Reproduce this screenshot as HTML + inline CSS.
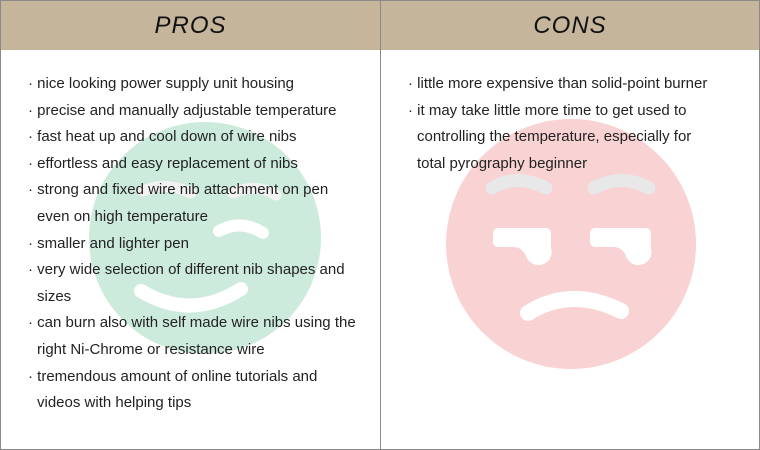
<!DOCTYPE html>
<html><head><style>
body{margin:0;background:#fff;}
#w{position:relative;width:758px;height:448px;border:1px solid #8a8a8a;overflow:hidden;font-family:"Liberation Sans",sans-serif;}
.hd{position:absolute;top:0;height:49px;background:#c4b59b;font-style:italic;font-size:24px;color:#111;text-align:center;line-height:50px;letter-spacing:1px;}
.div{position:absolute;left:379px;top:0;width:1px;height:448px;background:#8a8a8a;}
ul{position:absolute;margin:0;padding:0;list-style:none;font-size:15px;color:#222;line-height:26.6px;}
li{padding-left:9px;text-indent:-9px;}
li:before{content:"· ";}
svg{position:absolute;left:0;top:0;}
</style></head><body>
<div id="w">
<svg width="758" height="448">
<circle cx="204" cy="237" r="116" fill="#cdebdc"/>
<path d="M142 190 Q165 180 190 192" stroke="#f2f2f2" stroke-width="11" fill="none" stroke-linecap="round"/>
<path d="M232 192 Q255 182 275 194" stroke="#f2f2f2" stroke-width="11" fill="none" stroke-linecap="round"/>
<path d="M218 230 Q240 218 262 232" stroke="#fff" stroke-width="12" fill="none" stroke-linecap="round"/>
<path d="M140 290 Q190 320 240 288" stroke="#fff" stroke-width="14" fill="none" stroke-linecap="round"/>
<circle cx="570" cy="243" r="125" fill="#f9d2d3"/>
<path d="M491 187 Q515 172 545 187" stroke="#e8e8e8" stroke-width="13" fill="none" stroke-linecap="round"/>
<path d="M593 187 Q620 172 648 187" stroke="#e8e8e8" stroke-width="13" fill="none" stroke-linecap="round"/>
<path d="M497 232 H545 V248 A8 8 0 0 1 530 254 Q525 241 512 241 H497 Z" fill="#fff" stroke="#fff" stroke-width="10" stroke-linejoin="round"/>
<path d="M594 232 H645 V248 A8 8 0 0 1 630 254 Q625 241 612 241 H594 Z" fill="#fff" stroke="#fff" stroke-width="10" stroke-linejoin="round"/>
<path d="M527 312 Q570 285 620 310" stroke="#fff" stroke-width="16" fill="none" stroke-linecap="round"/>
</svg>
<div class="hd" style="left:0;width:379px;">PROS</div>
<div class="hd" style="left:380px;width:378px;">CONS</div>
<div class="div"></div>
<ul style="left:27px;top:70px;width:332px;">
<li>nice looking power supply unit housing</li>
<li>precise and manually adjustable temperature</li>
<li>fast heat up and cool down of wire nibs</li>
<li>effortless and easy replacement of nibs</li>
<li>strong and fixed wire nib attachment on pen even on high temperature</li>
<li>smaller and lighter pen</li>
<li>very wide selection of different nib shapes and sizes</li>
<li>can burn also with self made wire nibs using the right Ni-Chrome or resistance wire</li>
<li>tremendous amount of online tutorials and videos with helping tips</li>
</ul>
<ul style="left:407px;top:70px;width:300px;">
<li>little more expensive than solid-point burner</li>
<li>it may take little more time to get used to controlling the temperature, especially for total pyrography beginner</li>
</ul>
</div>
</body></html>
